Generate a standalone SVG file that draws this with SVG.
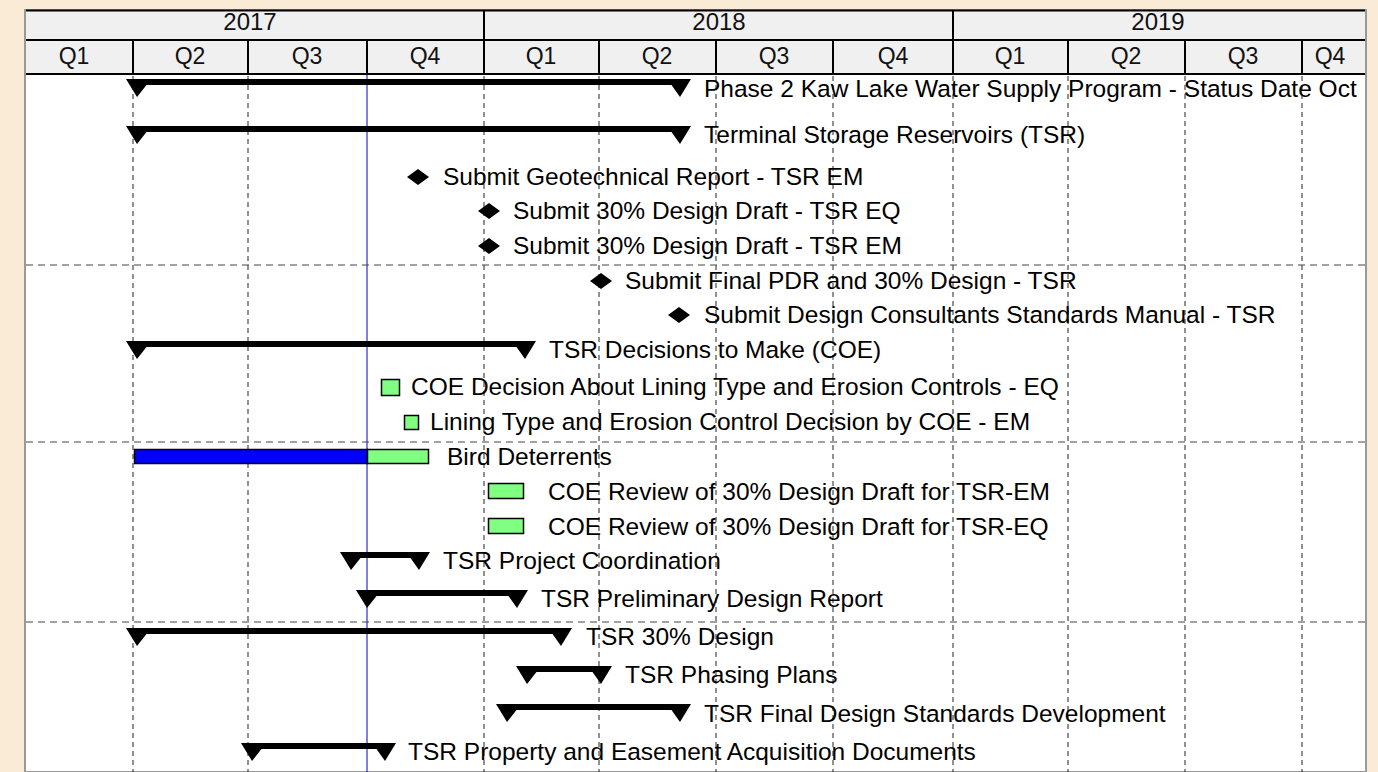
<svg xmlns="http://www.w3.org/2000/svg" width="1378" height="772" viewBox="0 0 1378 772">
<defs>
<style>
.hdr{fill:#f0f0f0}
.ht{font-family:"Liberation Sans",Arial,sans-serif;font-size:23px;fill:#111;text-anchor:middle}
.yt{font-family:"Liberation Sans",Arial,sans-serif;font-size:24px;fill:#111;text-anchor:middle}
.t{font-family:"Liberation Sans",Arial,sans-serif;font-size:24.5px;fill:#000}
.sep{stroke:#000;stroke-width:2}
.vg{stroke:#222;stroke-width:1;stroke-dasharray:5 4}
.hg{stroke:#444;stroke-width:1;stroke-dasharray:7 5}
.sum{fill:#000}
.ms{fill:#000}
.gb{fill:#80ff80;stroke:#000;stroke-width:1.5}
.bb{fill:#0000ff;stroke:#000;stroke-width:1.5}
</style>
<clipPath id="body"><rect x="26" y="74" width="1339" height="698"/></clipPath>
</defs>
<rect x="0" y="0" width="1378" height="772" fill="#faebd7"/>
<rect x="25" y="10" width="1341" height="762" fill="#ffffff" stroke="#999" stroke-width="2"/>
<g id="header">
<rect class="hdr" x="26" y="11" width="1339" height="63"/>
<line class="sep" x1="26" y1="10.5" x2="1365" y2="10.5" stroke-width="1.5"/>
<line class="sep" x1="26" y1="40" x2="1365" y2="40"/>
<line class="sep" x1="26" y1="74" x2="1365" y2="74"/>
<line class="sep" x1="484" y1="10" x2="484" y2="74"/>
<line class="sep" x1="953" y1="10" x2="953" y2="74"/>
<line class="sep" x1="133" y1="40" x2="133" y2="74"/>
<line class="sep" x1="248" y1="40" x2="248" y2="74"/>
<line class="sep" x1="367" y1="40" x2="367" y2="74"/>
<line class="sep" x1="599" y1="40" x2="599" y2="74"/>
<line class="sep" x1="716" y1="40" x2="716" y2="74"/>
<line class="sep" x1="833" y1="40" x2="833" y2="74"/>
<line class="sep" x1="1068" y1="40" x2="1068" y2="74"/>
<line class="sep" x1="1185" y1="40" x2="1185" y2="74"/>
<line class="sep" x1="1302" y1="40" x2="1302" y2="74"/>
<text class="yt" x="250" y="30">2017</text>
<text class="yt" x="719" y="30">2018</text>
<text class="yt" x="1158" y="30">2019</text>
<text class="ht" x="74" y="64">Q1</text>
<text class="ht" x="190" y="64">Q2</text>
<text class="ht" x="307" y="64">Q3</text>
<text class="ht" x="425" y="64">Q4</text>
<text class="ht" x="541" y="64">Q1</text>
<text class="ht" x="657" y="64">Q2</text>
<text class="ht" x="774" y="64">Q3</text>
<text class="ht" x="893" y="64">Q4</text>
<text class="ht" x="1010" y="64">Q1</text>
<text class="ht" x="1126" y="64">Q2</text>
<text class="ht" x="1243" y="64">Q3</text>
<text class="ht" x="1330" y="64">Q4</text>
</g>
<g id="grid">
<line class="vg" x1="133" y1="76" x2="133" y2="772"/>
<line class="vg" x1="248" y1="76" x2="248" y2="772"/>
<line x1="367" y1="75" x2="367" y2="772" stroke="#0000cc" stroke-width="1"/>
<line class="vg" x1="484" y1="76" x2="484" y2="772"/>
<line class="vg" x1="599" y1="76" x2="599" y2="772"/>
<line class="vg" x1="716" y1="76" x2="716" y2="772"/>
<line class="vg" x1="833" y1="76" x2="833" y2="772"/>
<line class="vg" x1="953" y1="76" x2="953" y2="772"/>
<line class="vg" x1="1068" y1="76" x2="1068" y2="772"/>
<line class="vg" x1="1185" y1="76" x2="1185" y2="772"/>
<line class="vg" x1="1302" y1="76" x2="1302" y2="772"/>
<line class="hg" x1="26" y1="265" x2="1365" y2="265"/>
<line class="hg" x1="26" y1="442" x2="1365" y2="442"/>
<line class="hg" x1="26" y1="622" x2="1365" y2="622"/>
</g>
<g id="tasks" clip-path="url(#body)">
<g id="task1">
<path class="sum" d="M126 79H691L680 97L671.5 85H146.5L137 97Z"/>
<text class="t" x="704" y="97">Phase 2 Kaw Lake Water Supply Program - Status Date Oct</text>
</g>
<g id="task2">
<path class="sum" d="M126 126H691L680 144L671.5 132H146.5L137 144Z"/>
<text class="t" x="704" y="143">Terminal Storage Reservoirs (TSR)</text>
</g>
<g id="task3">
<path class="ms" d="M418 169L429 177L418 185L407 177Z"/>
<text class="t" x="443" y="185">Submit Geotechnical Report - TSR EM</text>
</g>
<g id="task4">
<path class="ms" d="M489 203L500 211L489 219L478 211Z"/>
<text class="t" x="513" y="219">Submit 30% Design Draft - TSR EQ</text>
</g>
<g id="task5">
<path class="ms" d="M489 238L500 246L489 254L478 246Z"/>
<text class="t" x="513" y="254">Submit 30% Design Draft - TSR EM</text>
</g>
<g id="task6">
<path class="ms" d="M601 273L612 281L601 289L590 281Z"/>
<text class="t" x="625" y="289">Submit Final PDR and 30% Design - TSR</text>
</g>
<g id="task7">
<path class="ms" d="M679 307L690 315L679 323L668 315Z"/>
<text class="t" x="704" y="323">Submit Design Consultants Standards Manual - TSR</text>
</g>
<g id="task8">
<path class="sum" d="M126 341H536L525 359L516.5 347H146.5L137 359Z"/>
<text class="t" x="549" y="358">TSR Decisions to Make (COE)</text>
</g>
<g id="task9">
<rect class="gb" x="381.5" y="379.5" width="18" height="16"/>
<text class="t" x="411" y="395">COE Decision About Lining Type and Erosion Controls - EQ</text>
</g>
<g id="task10">
<rect class="gb" x="404.5" y="415.5" width="14" height="14"/>
<text class="t" x="430" y="430">Lining Type and Erosion Control Decision by COE - EM</text>
</g>
<g id="task11">
<rect class="bb" x="134.5" y="449.5" width="233" height="14"/>
<rect class="gb" x="367.5" y="449.5" width="61" height="14"/>
<text class="t" x="447" y="465">Bird Deterrents</text>
</g>
<g id="task12">
<rect class="gb" x="488.5" y="483.5" width="35" height="15"/>
<text class="t" x="548" y="500">COE Review of 30% Design Draft for TSR-EM</text>
</g>
<g id="task13">
<rect class="gb" x="488.5" y="518.5" width="35" height="15"/>
<text class="t" x="548" y="535">COE Review of 30% Design Draft for TSR-EQ</text>
</g>
<g id="task14">
<path class="sum" d="M340 552H430L419 570L410.5 558H360.5L351 570Z"/>
<text class="t" x="443" y="569">TSR Project Coordination</text>
</g>
<g id="task15">
<path class="sum" d="M356 590H528L517 608L508.5 596H376.5L367 608Z"/>
<text class="t" x="541" y="607">TSR Preliminary Design Report</text>
</g>
<g id="task16">
<path class="sum" d="M126 628H572L561 646L552.5 634H146.5L137 646Z"/>
<text class="t" x="586" y="645">TSR 30% Design</text>
</g>
<g id="task17">
<path class="sum" d="M516 666H612L601 684L592.5 672H536.5L527 684Z"/>
<text class="t" x="625" y="683">TSR Phasing Plans</text>
</g>
<g id="task18">
<path class="sum" d="M496 704H691L680 722L671.5 710H516.5L507 722Z"/>
<text class="t" x="704" y="722">TSR Final Design Standards Development</text>
</g>
<g id="task19">
<path class="sum" d="M241 743H396L385 761L376.5 749H261.5L252 761Z"/>
<text class="t" x="408" y="760">TSR Property and Easement Acquisition Documents</text>
</g>
</g>
</svg>
